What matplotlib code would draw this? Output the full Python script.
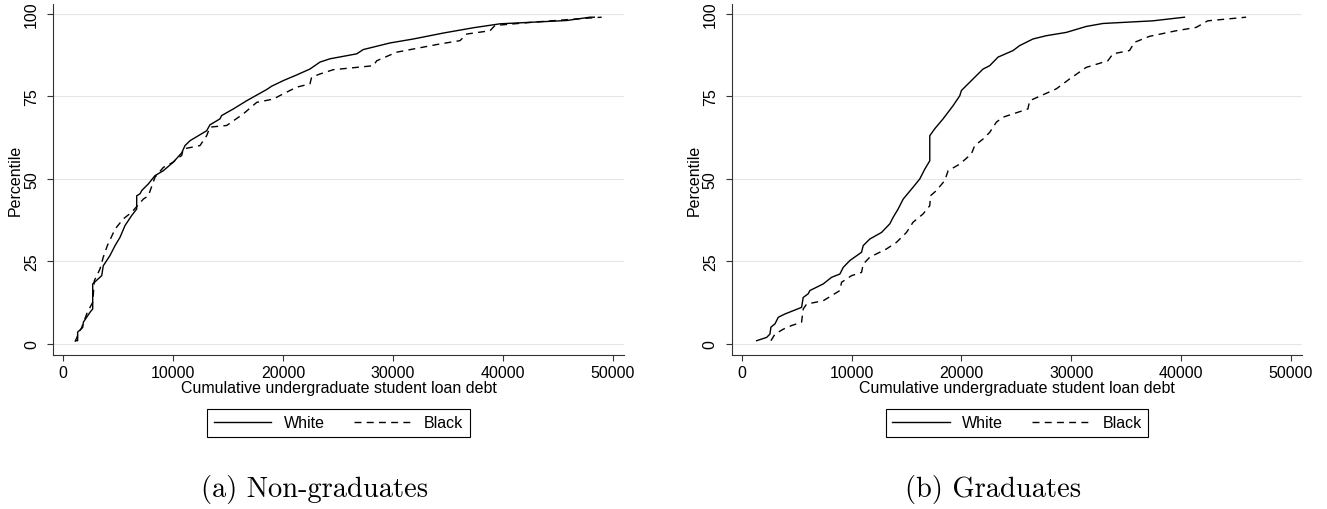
import matplotlib
matplotlib.use("Agg")
import matplotlib.pyplot as plt

# ---- data (debt in $, percentile) ----
ng_white_x = [1180, 1330, 1330, 1790, 1850, 2450, 2700, 2700, 3520, 3660, 4270, 4730, 5180,
              5640, 6240, 6700, 6700, 7000, 7160, 7760, 8360, 9120, 10030, 10790, 11090,
              11550, 13060, 13360, 14270, 14420, 15480, 16700, 18520, 18970, 20030, 21240,
              22450, 23360, 24270, 26700, 27300, 29730, 31850, 34570, 37300, 39730, 42760,
              45790, 47900, 48300]
ng_white_y = [1.0, 1.0, 3.6, 5.0, 6.6, 9.6, 10.6, 18.2, 20.7, 23.7, 26.8, 29.8, 32.3,
              35.9, 38.9, 40.9, 44.9, 45.5, 46.5, 48.5, 51.0, 52.5, 55.1, 57.9, 60.1,
              61.6, 64.6, 66.4, 68.2, 69.2, 71.2, 73.7, 77.1, 78.1, 79.8, 81.5,
              83.3, 85.4, 86.4, 87.9, 89.2, 91.2, 92.4, 94.2, 95.8, 97.0, 97.5,
              98.0, 99.0, 99.0]
ng_black_x = [1090, 1400, 1700, 2210, 2700, 2850, 3360, 3660, 4030, 4730, 5480, 6240, 7300,
              7760, 8360, 9120, 10030, 10330, 10790, 10940, 12450, 13060, 13360, 14880,
              16390, 17610, 19120, 20030, 21240, 22450, 22600, 23360, 24570, 28210, 28520,
              30330, 34270, 36090, 36700, 38820, 39270, 42760, 47610, 48970]
ng_black_y = [0.7, 3.0, 5.0, 9.6, 12.6, 19.2, 22.7, 26.3, 29.8, 34.8, 37.9, 39.9, 43.9,
              44.9, 50.5, 53.5, 55.1, 56.1, 57.1, 59.1, 60.1, 63.1, 65.7, 66.2,
              69.7, 73.2, 74.2, 75.8, 77.8, 78.8, 80.8, 81.8, 83.1, 84.3, 85.8,
              88.4, 90.9, 91.9, 93.9, 94.9, 96.5, 97.5, 98.7, 99.0]

gr_white_x = [1360, 2270, 2570, 2660, 3030, 3330, 3940, 5450, 5600, 6050, 6210, 7420, 8180,
              8940, 9240, 9850, 10910, 11060, 11660, 12730, 13480, 13790, 14240, 14700,
              15600, 16210, 16670, 17120, 17120, 17570, 18330, 19240, 19850, 20000, 21060,
              21970, 22570, 23330, 24700, 25300, 26510, 27730, 29550, 31360, 32880, 37420,
              40300]
gr_white_y = [1.0, 2.0, 3.0, 5.1, 6.1, 8.1, 9.1, 11.1, 14.1, 15.2, 16.2, 18.2, 20.2,
              21.2, 23.2, 25.3, 27.8, 29.8, 31.8, 33.8, 36.4, 38.4, 40.9, 43.9,
              47.5, 50.0, 53.0, 55.5, 63.1, 65.2, 68.2, 72.2, 75.2, 76.8, 80.3,
              83.3, 84.3, 86.9, 88.9, 90.4, 92.4, 93.4, 94.4, 96.2, 97.1, 97.9,
              99.0]
gr_black_x = [2660, 3030, 3790, 4550, 5450, 5600, 5910, 7420, 8940, 9090, 10000, 10910,
              11060, 11660, 13180, 14090, 15000, 15600, 16510, 17120, 17180, 17730, 18480,
              18790, 19850, 20910, 21210, 21970, 22570, 23180, 23780, 26050, 26210, 28640,
              29850, 31360, 33330, 33790, 35300, 35760, 37120, 39550, 41360, 42420, 45910]
gr_black_y = [1.0, 3.0, 4.5, 5.6, 6.6, 10.6, 12.1, 13.1, 16.2, 18.7, 20.7, 21.7,
              24.2, 26.3, 28.8, 30.8, 33.8, 36.9, 39.4, 41.9, 44.9, 46.5, 49.5,
              52.5, 54.5, 57.6, 60.1, 62.1, 64.1, 67.2, 68.7, 71.2, 73.7, 77.3,
              80.3, 83.8, 85.8, 87.9, 88.9, 91.4, 93.2, 94.9, 95.9, 97.9, 99.0]

x_ticks = [0, 10000, 20000, 30000, 40000, 50000]
y_ticks = [0, 25, 50, 75, 100]
captions = ["(a) Non-graduates", "(b) Graduates"]

plt.rcParams["font.family"] = ["Liberation Sans", "DejaVu Sans"]

W, H = 1327, 510
FS = 11.5
fig = plt.figure(figsize=(W / 100, H / 100), dpi=100)

panels = [
    (53, 624, ng_white_x, ng_white_y, ng_black_x, ng_black_y, 315),
    (731.7, 1302, gr_white_x, gr_white_y, gr_black_x, gr_black_y, 993),
]
for i, (x0, x1, wx, wy, bx, by, capx) in enumerate(panels):
    ax = fig.add_axes([x0 / W, 1 - 356 / H, (x1 - x0) / W, 351 / H])
    for y in y_ticks:
        ax.axhline(y, color="#e6e6e6", lw=0.8, zorder=0)
    ax.plot(wx, wy, color="black", lw=1.0, label="White")
    ax.plot(bx, by, color="black", lw=1.0, linestyle=(0, (5, 3.8)), label="Black")
    ax.set_xlim(-909, 51000)
    ax.set_ylim(-3.33, 103.0)
    ax.set_xticks(x_ticks)
    ax.set_yticks(y_ticks)
    ax.tick_params(direction="out", length=4, width=0.8, labelsize=FS, color="#333333")
    ax.tick_params(axis="x", pad=3)
    ax.tick_params(axis="y", pad=6, labelrotation=90)
    plt.setp(ax.get_yticklabels(), va="center")
    for s in ["top", "right"]:
        ax.spines[s].set_visible(False)
    for s in ["left", "bottom"]:
        ax.spines[s].set_linewidth(0.8)
        ax.spines[s].set_color("#333333")
    ax.set_xlabel("Cumulative undergraduate student loan debt", fontsize=FS, labelpad=0)
    ax.set_ylabel("Percentile", fontsize=FS, labelpad=1)
    cx = (x0 + x1) / 2
    leg = ax.legend(loc="center", bbox_to_anchor=(cx / W, 1 - 424 / H),
                    bbox_transform=fig.transFigure, ncol=2, fontsize=FS,
                    handlelength=3.6, handletextpad=0.8, columnspacing=1.8,
                    fancybox=False, edgecolor="black", framealpha=1,
                    borderpad=0.4, borderaxespad=0)
    leg.get_frame().set_linewidth(0.8)
    fig.text(capx / W, 1 - 490 / H, captions[i], family="cmr10", fontsize=20.5,
             ha="center", va="center")

fig.savefig("out.png", dpi=100)
